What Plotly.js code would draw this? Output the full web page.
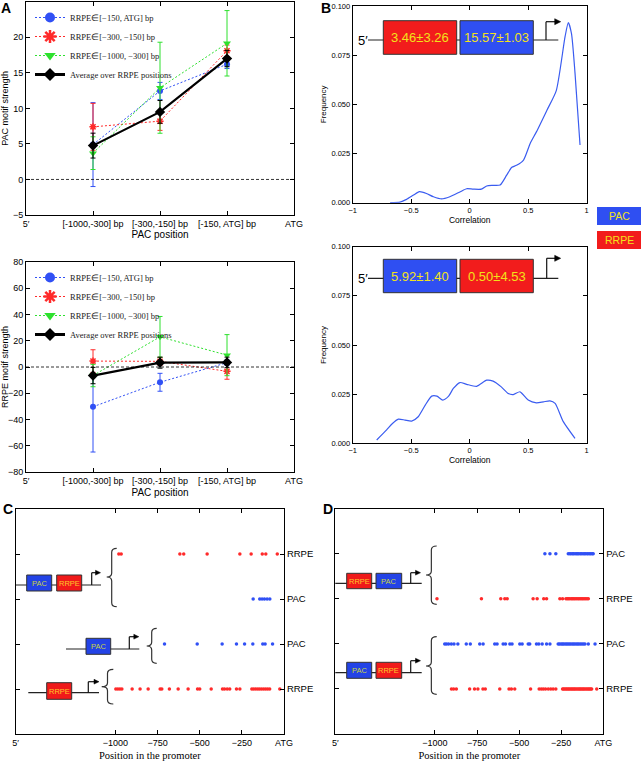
<!DOCTYPE html>
<html><head><meta charset="utf-8">
<script src="https://cdn.plot.ly/plotly-3.0.1.min.js"></script>
<style>html,body{margin:0;padding:0;background:#fff}#chart{width:641px;height:762px}</style>
</head><body><div id="chart"></div>
<script>
// ================= DATA =================
// Panel A: x tick positions / labels
const aTickVals = [0, 1, 2, 3, 4];
const aTickText = ["5′", "[-1000,-300] bp", "[-300,-150] bp", "[-150, ATG] bp", "ATG"];
const aBinX = [1, 2, 3];
const seriesNames = ["RRPE∈[−150, ATG] bp", "RRPE∈[−300, −150] bp", "RRPE∈[−1000, −300] bp", "Average over RRPE positions"];

// Panel A top: PAC motif strength
const pacBlue = [4.9, 12.45, 16.2];    const pacBlueErr = [5.9, 1.2, 0.6];
const pacRed = [7.4, 8.2, 18.1];       const pacRedErr = [3.3, 1.3, 0.8];
const pacGreen = [3.7, 12.9, 19.15];   const pacGreenErr = [2.3, 6.4, 4.6];
const pacAvg = [4.76, 9.5, 17.0];      const pacAvgErr = [1.75, 1.6, 1.15];

// Panel A bottom: RRPE motif strength
const rrpeBlue = [-30.2, -11.6, 3.3];  const rrpeBlueErr = [34.4, 6.8, 2.0];
const rrpeRed = [4.5, 4.3, -3.3];      const rrpeRedErr = [8.6, 3.0, 6.0];
const rrpeGreen = [-6.5, 22.9, 9.0];   const rrpeGreenErr = [8.5, 15.5, 15.6];
const rrpeAvg = [-6.5, 3.3, 3.5];      const rrpeAvgErr = [6.2, 4.2, 4.0];

// Panel B: correlation distributions
const corrTop = [-0.68,-0.595,-0.54,-0.48,-0.43,-0.37,-0.31,-0.24,-0.17,-0.08,-0.026,0.03,0.10,0.145,0.20,0.26,0.316,0.36,0.40,0.46,0.516,0.57,0.66,0.74,0.815,0.843,0.87,0.90,0.943];
const freqTop = [0.000,0.0003,0.0017,0.0039,0.0056,0.0047,0.0030,0.0019,0.0030,0.0056,0.0071,0.0069,0.0069,0.0085,0.0088,0.0090,0.0140,0.0180,0.0190,0.0217,0.0300,0.0360,0.0470,0.0570,0.0844,0.0915,0.0860,0.0660,0.0293];
const corrBottom = [-0.795,-0.71,-0.66,-0.61,-0.553,-0.496,-0.44,-0.38,-0.325,-0.28,-0.23,-0.18,-0.14,-0.083,-0.026,0.06,0.145,0.20,0.27,0.33,0.373,0.43,0.50,0.57,0.63,0.686,0.73,0.80,0.90];
const freqBottom = [0.0017,0.0068,0.0101,0.0123,0.0118,0.0113,0.0135,0.0194,0.0240,0.0240,0.0220,0.0240,0.0279,0.0309,0.0300,0.0290,0.0321,0.0316,0.0287,0.0253,0.0248,0.0262,0.0220,0.0206,0.0211,0.0216,0.0203,0.0110,0.0025];
const bTickVals = [0, 0.025, 0.05, 0.075, 0.1];

// Panels C & D: row positions and tick labels
const rowVals = [1, 2, 3, 4];
const cRowLabels = ["RRPE", "PAC", "PAC", "RRPE"];
const dRowLabels = ["RRPE", "PAC", "RRPE", "PAC"];
const posTickVals = [-1592, -1000, -750, -500, -250, 0];
const posTickText = ["5′", "−1000", "−750", "−500", "−250", "ATG"];

// Panel C motif positions
const cRow4RRPE = [-980,-966,-618,-595,-456,-262,-195,-129,-108,-40];
const cRow3PAC = [-183,-144,-130,-116,-100,-84];
const cRow2PAC = [-709,-515,-367,-282,-234,-185,-126,-112,-68];
const cRow1RRPE = [-998,-986,-974,-962,-901,-854,-806,-735,-725,-680,-628,-569,-513,-500,-432,-365,-353,-337,-322,-282,-262,-191,-180,-168,-156,-145,-133,-121,-109,-97,-85,-25];
// Panel D motif positions
const dRow4PAC = [-347,-317,-282,-208,-199,-192,-183,-177,-168,-160,-153,-146,-137,-130,-121,-113,-106,-97,-90,-81,-74,-66,-60];
const dRow3RRPE = [-988,-724,-609,-585,-571,-417,-393,-354,-337,-258,-242,-222,-214,-207,-199,-190,-183,-175,-168,-160,-151,-144,-136,-128,-121,-113,-105,-97,-89];
const dRow2PAC = [-942,-932,-919,-903,-887,-864,-814,-790,-734,-714,-645,-631,-595,-581,-555,-542,-496,-482,-446,-437,-397,-383,-363,-337,-317,-268,-260,-251,-243,-236,-227,-219,-211,-203,-195,-186,-178,-170,-161,-153,-145,-136,-127,-118,-109,-89,-49];
const dRow1RRPE = [-902,-889,-873,-794,-765,-745,-715,-701,-615,-560,-546,-526,-432,-381,-368,-356,-343,-327,-312,-298,-282,-242,-236,-229,-222,-216,-209,-203,-196,-189,-183,-176,-170,-163,-156,-149,-142,-136,-129,-122,-116,-109,-102,-95,-88,-82,-75,-69,-39];

// ================= HELPERS =================
const W = 641, H = 762;
const X = p => p / W;
const Y = p => 1 - p / H;
const P = (x, y) => X(x).toFixed(5) + ',' + Y(y).toFixed(5);

const BLUE = '#3050f5', RED = '#ff2a2a', GREEN = '#2ee02e', BLACK = '#000000';
const SANS = 'Liberation Sans, Arial, sans-serif';
const SERIF = 'Liberation Serif, Times New Roman, serif';

const shapes = [];
const annotations = [];

function seg(x0, y0, x1, y1, w, c) {
  shapes.push({type: 'line', xref: 'paper', yref: 'paper', x0: X(x0), y0: Y(y0), x1: X(x1), y1: Y(y1),
    line: {color: c || '#222', width: w || 1.2}});
}
function box(x0, y0, x1, y1, fill, label, tcolor, fs) {
  shapes.push({type: 'rect', xref: 'paper', yref: 'paper', x0: X(x0), y0: Y(y1), x1: X(x1), y1: Y(y0),
    fillcolor: fill, line: {color: '#333', width: 1}});
  annotations.push({xref: 'paper', yref: 'paper', x: X((x0 + x1) / 2), y: Y((y0 + y1) / 2), text: label,
    showarrow: false, xanchor: 'center', yanchor: 'middle', font: {family: SANS, size: fs, color: tcolor}});
}
function bentArrow(xv, yb, yt, xe, hs) {
  hs = hs || 5;
  seg(xv, yb, xv, yt, 1.2, '#111');
  seg(xv, yt, xe - hs, yt, 1.2, '#111');
  shapes.push({type: 'path', xref: 'paper', yref: 'paper',
    path: `M${P(xe - hs - 1, yt - hs * 0.6)} L${P(xe, yt)} L${P(xe - hs - 1, yt + hs * 0.6)} Z`,
    fillcolor: '#000', line: {color: '#000', width: 0.5}});
}
function brace(xt, xr, yt, ym, yb) {
  const xm = (xt + xr) / 2, r = 4;
  shapes.push({type: 'path', xref: 'paper', yref: 'paper',
    path: `M${P(xr, yt)} Q${P(xm, yt)} ${P(xm, yt + r)} L${P(xm, ym - r)} Q${P(xm, ym)} ${P(xt, ym)} Q${P(xm, ym)} ${P(xm, ym + r)} L${P(xm, yb - r)} Q${P(xm, yb)} ${P(xr, yb)}`,
    line: {color: '#333', width: 1.2}});
}
function label(x, y, text, size, opts) {
  annotations.push(Object.assign({xref: 'paper', yref: 'paper', x: X(x), y: Y(y), text: text, showarrow: false,
    xanchor: 'center', yanchor: 'middle', font: {family: SANS, size: size, color: '#000'}}, opts || {}));
}

// ================= TRACES =================
const traces = [];
function aSeries(xa, ya, y, err, color, sym, msize, dash, lw, name) {
  traces.push({x: aBinX, y: y, xaxis: xa, yaxis: ya, type: 'scatter', mode: 'lines+markers', name: name,
    showlegend: false,
    line: {color: color, width: lw, dash: dash},
    marker: {symbol: sym, size: msize, color: color, line: {color: color, width: sym === 'asterisk-open' ? 1.5 : 0}},
    error_y: {type: 'data', array: err, visible: true, color: color, thickness: 1, width: 2.5}});
}
function aLegend(xa, ya, color, sym, msize, dash, lw, name, legendId) {
  traces.push({x: [null], y: [null], xaxis: xa, yaxis: ya, type: 'scatter', mode: 'lines+markers', name: name,
    legend: legendId, showlegend: true,
    line: {color: color, width: lw, dash: dash},
    marker: {symbol: sym, size: msize, color: color, line: {color: color, width: sym === 'asterisk-open' ? 2.5 : 0}}});
}
// A top
aSeries('x', 'y', pacBlue, pacBlueErr, BLUE, 'circle', 6, '2px,2px', 1, seriesNames[0]);
aSeries('x', 'y', pacRed, pacRedErr, RED, 'asterisk-open', 6, '2px,2px', 1, seriesNames[1]);
aSeries('x', 'y', pacGreen, pacGreenErr, GREEN, 'triangle-down', 7, '2px,2px', 1, seriesNames[2]);
aSeries('x', 'y', pacAvg, pacAvgErr, BLACK, 'diamond', 8, 'solid', 2.2, seriesNames[3]);
aLegend('x', 'y', BLUE, 'circle', 10, '2px,2px', 1, seriesNames[0], 'legend');
aLegend('x', 'y', RED, 'asterisk-open', 11, '2px,2px', 1, seriesNames[1], 'legend');
aLegend('x', 'y', GREEN, 'triangle-down', 10, '2px,2px', 1, seriesNames[2], 'legend');
aLegend('x', 'y', BLACK, 'diamond', 10, 'solid', 3, seriesNames[3], 'legend');
// A bottom
aSeries('x2', 'y2', rrpeBlue, rrpeBlueErr, BLUE, 'circle', 6, '2px,2px', 1, seriesNames[0]);
aSeries('x2', 'y2', rrpeRed, rrpeRedErr, RED, 'asterisk-open', 6, '2px,2px', 1, seriesNames[1]);
aSeries('x2', 'y2', rrpeGreen, rrpeGreenErr, GREEN, 'triangle-down', 7, '2px,2px', 1, seriesNames[2]);
aSeries('x2', 'y2', rrpeAvg, rrpeAvgErr, BLACK, 'diamond', 8, 'solid', 2.2, seriesNames[3]);
aLegend('x2', 'y2', BLUE, 'circle', 10, '2px,2px', 1, seriesNames[0], 'legend2');
aLegend('x2', 'y2', RED, 'asterisk-open', 11, '2px,2px', 1, seriesNames[1], 'legend2');
aLegend('x2', 'y2', GREEN, 'triangle-down', 10, '2px,2px', 1, seriesNames[2], 'legend2');
aLegend('x2', 'y2', BLACK, 'diamond', 10, 'solid', 3, seriesNames[3], 'legend2');

// B
traces.push({x: corrTop, y: freqTop, xaxis: 'x3', yaxis: 'y3', type: 'scatter', mode: 'lines', line: {color: '#3a5cf0', width: 1.2, shape: 'spline', smoothing: 0.6}, showlegend: false});
traces.push({x: corrBottom, y: freqBottom, xaxis: 'x4', yaxis: 'y4', type: 'scatter', mode: 'lines', line: {color: '#3a5cf0', width: 1.2, shape: 'spline', smoothing: 0.6}, showlegend: false});

// C & D dot rows
function dotRow(xa, ya, xs, row, color) {
  traces.push({x: xs, y: xs.map(() => row), xaxis: xa, yaxis: ya, type: 'scatter', mode: 'markers',
    marker: {size: 3.5, color: color}, showlegend: false});
}
dotRow('x5', 'y5', cRow4RRPE, rowVals[3], RED);
dotRow('x5', 'y5', cRow3PAC, rowVals[2], BLUE);
dotRow('x5', 'y5', cRow2PAC, rowVals[1], BLUE);
dotRow('x5', 'y5', cRow1RRPE, rowVals[0], RED);
dotRow('x6', 'y6', dRow4PAC, rowVals[3], BLUE);
dotRow('x6', 'y6', dRow3RRPE, rowVals[2], RED);
dotRow('x6', 'y6', dRow2PAC, rowVals[1], BLUE);
dotRow('x6', 'y6', dRow1RRPE, rowVals[0], RED);

// ================= AXES =================
function ax(extra) {
  return Object.assign({showline: true, linecolor: '#000', linewidth: 1, mirror: 'ticks', ticks: 'inside',
    ticklen: 4, tickcolor: '#000', showgrid: false, zeroline: false, fixedrange: true,
    tickfont: {family: SANS, size: 9, color: '#000'}}, extra);
}
const layout = {
  width: W, height: H, margin: {l: 0, r: 0, t: 0, b: 0}, paper_bgcolor: '#fff', plot_bgcolor: '#fff',
  font: {family: SANS, color: '#000'}, showlegend: true,
  xaxis: ax({domain: [X(26), X(294)], range: [0, 4], tickmode: 'array', tickvals: aTickVals, ticktext: aTickText, anchor: 'y',
    title: {text: 'PAC position', font: {size: 10}, standoff: 3}}),
  yaxis: ax({domain: [Y(215), Y(1.7)], range: [-5, 25], dtick: 5, anchor: 'x',
    title: {text: 'PAC motif strength', font: {size: 9}, standoff: 4}}),
  xaxis2: ax({domain: [X(26), X(294)], range: [0, 4], tickmode: 'array', tickvals: aTickVals, ticktext: aTickText, anchor: 'y2',
    title: {text: 'PAC position', font: {size: 10}, standoff: 3}}),
  yaxis2: ax({domain: [Y(472.3), Y(261.7)], range: [-80, 80], dtick: 20, anchor: 'x2',
    title: {text: 'RRPE motif strength', font: {size: 9}, standoff: 4}}),
  xaxis3: ax({domain: [X(352.7), X(586.7)], range: [-1, 1], dtick: 0.5, anchor: 'y3', tickfont: {family: SANS, size: 7.5},
    title: {text: 'Correlation', font: {size: 8.5}, standoff: 2}}),
  yaxis3: ax({domain: [Y(202.7), Y(6)], range: [0, 0.1], tickmode: 'array', tickvals: bTickVals, tickformat: '.3f', anchor: 'x3', tickfont: {family: SANS, size: 7.5},
    title: {text: 'Frequency', font: {size: 8}, standoff: 3}}),
  xaxis4: ax({domain: [X(352.7), X(586.7)], range: [-1, 1], dtick: 0.5, anchor: 'y4', tickfont: {family: SANS, size: 7.5},
    title: {text: 'Correlation', font: {size: 8.5}, standoff: 2}}),
  yaxis4: ax({domain: [Y(443.3), Y(246.7)], range: [0, 0.1], tickmode: 'array', tickvals: bTickVals, tickformat: '.3f', anchor: 'x4', tickfont: {family: SANS, size: 7.5},
    title: {text: 'Frequency', font: {size: 8}, standoff: 3}}),
  xaxis5: ax({domain: [X(15.7), X(284)], range: [-1592, 0], tickmode: 'array', tickvals: posTickVals, ticktext: posTickText, anchor: 'y5',
    title: {text: 'Position in the promoter', font: {family: SERIF, size: 10.5}, standoff: 4}}),
  yaxis5: ax({domain: [Y(734), Y(509)], range: [0, 5], side: 'right', tickmode: 'array', tickvals: rowVals, ticktext: cRowLabels, anchor: 'x5', tickfont: {family: SANS, size: 9.5}}),
  xaxis6: ax({domain: [X(335.3), X(603.3)], range: [-1592, 0], tickmode: 'array', tickvals: posTickVals, ticktext: posTickText, anchor: 'y6',
    title: {text: 'Position in the promoter', font: {family: SERIF, size: 10.5}, standoff: 4}}),
  yaxis6: ax({domain: [Y(734), Y(508.7)], range: [0, 5], side: 'right', tickmode: 'array', tickvals: rowVals, ticktext: dRowLabels, anchor: 'x6', tickfont: {family: SANS, size: 9.5}}),
  legend: {x: X(30), y: Y(3), xanchor: 'left', yanchor: 'top', bgcolor: 'rgba(0,0,0,0)', borderwidth: 0,
    font: {family: SERIF, size: 8.5, color: '#222'}, itemwidth: 30, tracegroupgap: 0},
  legend2: {x: X(30), y: Y(263), xanchor: 'left', yanchor: 'top', bgcolor: 'rgba(0,0,0,0)', borderwidth: 0,
    font: {family: SERIF, size: 8.5, color: '#222'}, itemwidth: 30, tracegroupgap: 0},
  shapes: shapes, annotations: annotations
};

// zero lines in A
shapes.push({type: 'line', xref: 'x domain', yref: 'y', x0: 0, x1: 1, y0: 0, y1: 0, line: {color: '#000', width: 0.8, dash: '3px,2px'}});
shapes.push({type: 'line', xref: 'x2 domain', yref: 'y2', x0: 0, x1: 1, y0: 0, y1: 0, line: {color: '#000', width: 0.8, dash: '3px,2px'}});

// B insets
const BOXRED = '#f21c1c', BOXBLUE = '#2f4ff2', BTXT = '#f2e21a';
label(362.7, 40, '5′', 13);
seg(368, 40, 558.3, 40, 1.2, '#222');
box(383.3, 20.7, 456.7, 54.3, BOXRED, '3.46±3.26', BTXT, 13);
box(460, 20.7, 533.3, 54.3, BOXBLUE, '15.57±1.03', BTXT, 13);
bentArrow(546, 40, 21.7, 560.7, 5);
label(362.7, 278.3, '5′', 13);
seg(368, 278.3, 558.3, 278.3, 1.2, '#222');
box(383.3, 259.3, 456.7, 292.7, BOXBLUE, '5.92±1.40', BTXT, 13);
box(460, 259.3, 533.3, 292.7, BOXRED, '0.50±4.53', BTXT, 13);
bentArrow(546.7, 278.3, 258.3, 560.7, 5);
// right legend boxes
shapes.push({type: 'rect', xref: 'paper', yref: 'paper', x0: X(597), x1: X(641), y0: Y(225), y1: Y(207), fillcolor: BOXBLUE, line: {width: 0}});
label(619, 216, 'PAC', 10.5, {font: {family: SANS, size: 10.5, color: BTXT}});
shapes.push({type: 'rect', xref: 'paper', yref: 'paper', x0: X(597), x1: X(641), y0: Y(249), y1: Y(231), fillcolor: BOXRED, line: {width: 0}});
label(619, 240, 'RRPE', 10.5, {font: {family: SANS, size: 10.5, color: BTXT}});

// C schematics
const SBLUE = '#2343e6', SRED = '#f01a1a', TPAC = '#c8d640', TRRPE = '#ffc82a';
seg(16, 585, 101, 585);
box(26.7, 575, 51.7, 591, SBLUE, 'PAC', TPAC, 7.5);
box(56.7, 575, 81.7, 591, SRED, 'RRPE', TRRPE, 7.5);
bentArrow(91.7, 585, 572.7, 100.5, 4);
brace(106.7, 116.7, 548.3, 577, 606.7);

seg(66, 649, 139.3, 649);
box(86, 638.3, 110.7, 654.3, SBLUE, 'PAC', TPAC, 7.5);
bentArrow(129.3, 649, 636.7, 138.8, 4);
brace(146.7, 156.7, 628.3, 646, 663.3);

seg(28.3, 692.7, 99, 692.7);
box(46.7, 682.7, 71.7, 699.3, SRED, 'RRPE', TRRPE, 7.5);
bentArrow(88.3, 692.7, 681.7, 99, 4);
brace(101.7, 113.3, 669.3, 686.7, 704);

// D schematics
seg(335.3, 583.3, 421.7, 583.3);
box(346.7, 573.3, 371.7, 588.7, SRED, 'RRPE', TRRPE, 7.5);
box(376, 573.3, 401.7, 588.7, SBLUE, 'PAC', TPAC, 7.5);
bentArrow(410.7, 583.3, 572.7, 420.5, 4);
brace(426, 436.7, 546, 575, 604.3);

seg(335.3, 672.7, 421.7, 672.7);
box(346.7, 662.3, 371.7, 678.3, SBLUE, 'PAC', TPAC, 7.5);
box(376, 662.3, 401.7, 678.3, SRED, 'RRPE', TRRPE, 7.5);
bentArrow(410.7, 672.7, 660.7, 420.5, 4);
brace(426, 436.7, 636.7, 666, 694.3);

// panel letters
label(6, 8, '<b>A</b>', 14);
label(326, 8, '<b>B</b>', 14);
label(8, 509, '<b>C</b>', 14);
label(328, 509, '<b>D</b>', 14);

Plotly.newPlot('chart', traces, layout, {staticPlot: true});
</script></body></html>
